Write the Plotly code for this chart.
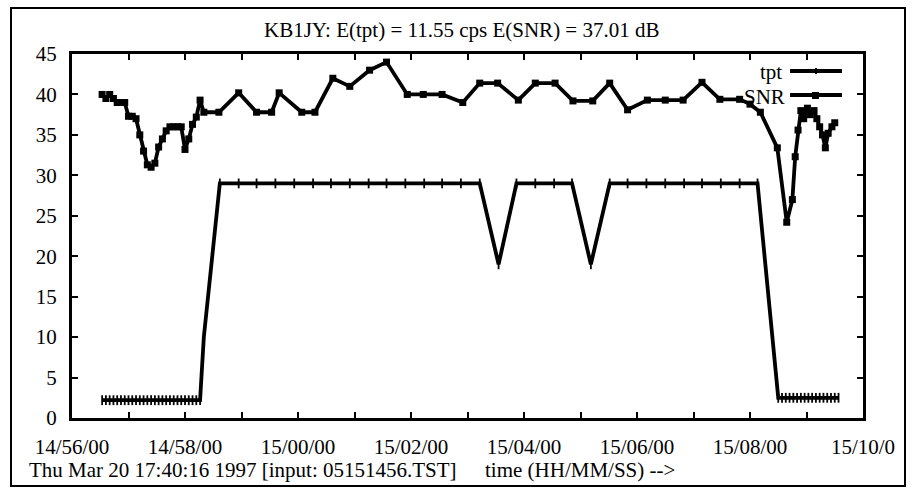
import plotly.graph_objects as go

DAY = "1997-03-20 "

# ---- data ----
tpt_times = [
    "14:56:32", "14:56:36", "14:56:40", "14:56:44", "14:56:48", "14:56:52", "14:56:56",
    "14:57:00", "14:57:04", "14:57:08", "14:57:12", "14:57:16", "14:57:20", "14:57:24",
    "14:57:28", "14:57:32", "14:57:36", "14:57:40", "14:57:44", "14:57:48", "14:57:52",
    "14:57:56", "14:58:00", "14:58:04", "14:58:08", "14:58:12", "14:58:16", "14:58:20",
    "14:58:37", "14:58:57", "14:59:16", "14:59:36", "14:59:56", "15:00:16", "15:00:35",
    "15:00:55", "15:01:15", "15:01:34", "15:01:54", "15:02:14", "15:02:33", "15:02:53",
    "15:03:13", "15:03:33", "15:03:52", "15:04:12", "15:04:32", "15:04:51", "15:05:11",
    "15:05:31", "15:05:50", "15:06:10", "15:06:30", "15:06:50", "15:07:09", "15:07:29",
    "15:07:49", "15:08:08",
    "15:08:30", "15:08:34", "15:08:38", "15:08:42", "15:08:46", "15:08:50", "15:08:54",
    "15:08:58", "15:09:02", "15:09:06", "15:09:10", "15:09:14", "15:09:18", "15:09:22",
    "15:09:26", "15:09:30", "15:09:34",
]
tpt_values = [
    2.2, 2.2, 2.2, 2.2, 2.2, 2.2, 2.2,
    2.2, 2.2, 2.2, 2.2, 2.2, 2.2, 2.2,
    2.2, 2.2, 2.2, 2.2, 2.2, 2.2, 2.2,
    2.2, 2.2, 2.2, 2.2, 2.2, 2.2, 10.0,
    29.0, 29.0, 29.0, 29.0, 29.0, 29.0, 29.0,
    29.0, 29.0, 29.0, 29.0, 29.0, 29.0, 29.0,
    29.0, 19.0, 29.0, 29.0, 29.0, 29.0, 19.0,
    29.0, 29.0, 29.0, 29.0, 29.0, 29.0, 29.0,
    29.0, 29.0,
    2.5, 2.5, 2.5, 2.5, 2.5, 2.5, 2.5,
    2.5, 2.5, 2.5, 2.5, 2.5, 2.5, 2.5,
    2.5, 2.5, 2.5,
]

snr_times = [
    "14:56:32", "14:56:36", "14:56:40", "14:56:44", "14:56:48", "14:56:52", "14:56:56",
    "14:57:00", "14:57:04", "14:57:08", "14:57:12", "14:57:16", "14:57:20", "14:57:24",
    "14:57:28", "14:57:32", "14:57:36", "14:57:40", "14:57:44", "14:57:48", "14:57:52",
    "14:57:56", "14:58:00", "14:58:04", "14:58:08", "14:58:12", "14:58:16", "14:58:20",
    "14:58:36", "14:58:57", "14:59:16", "14:59:32", "14:59:40", "15:00:04", "15:00:18",
    "15:00:37", "15:00:55", "15:01:16", "15:01:34", "15:01:56", "15:02:13", "15:02:33",
    "15:02:55", "15:03:13", "15:03:32", "15:03:54", "15:04:12", "15:04:33", "15:04:52",
    "15:05:13", "15:05:31", "15:05:50", "15:06:11", "15:06:30", "15:06:49", "15:07:09",
    "15:07:28", "15:07:49", "15:08:00", "15:08:11",
    "15:08:29", "15:08:39", "15:08:45", "15:08:48", "15:08:51", "15:08:54", "15:08:57",
    "15:09:01", "15:09:04", "15:09:08", "15:09:11", "15:09:14", "15:09:17", "15:09:20",
    "15:09:23", "15:09:27", "15:09:30",
]
snr_values = [
    40.0, 39.5, 40.0, 39.5, 39.0, 39.0, 39.0,
    37.3, 37.3, 37.0, 35.0, 33.0, 31.3, 31.0,
    31.5, 33.5, 34.5, 35.5, 36.0, 36.0, 36.0,
    36.0, 33.2, 34.5, 36.3, 37.2, 39.3, 37.8,
    37.8, 40.2, 37.8, 37.8, 40.2, 37.8, 37.8,
    42.0, 41.0, 43.0, 44.0, 40.0, 40.0, 40.0,
    39.0, 41.4, 41.4, 39.3, 41.4, 41.4, 39.2,
    39.2, 41.4, 38.1, 39.3, 39.3, 39.3, 41.5,
    39.4, 39.4, 38.8, 37.8,
    33.4, 24.2, 27.0, 32.3, 35.6, 38.0, 37.0,
    38.3, 37.5, 38.0, 37.0, 36.0, 35.0, 33.4,
    35.2, 36.0, 36.5,
]

tick_times = ["14:56:00", "14:57:00", "14:58:00", "14:59:00", "15:00:00", "15:01:00",
              "15:02:00", "15:03:00", "15:04:00", "15:05:00", "15:06:00", "15:07:00",
              "15:08:00", "15:09:00", "15:10:00"]
tick_labels = ["14/56/00", "", "14/58/00", "", "15/00/00", "", "15/02/00", "",
               "15/04/00", "", "15/06/00", "", "15/08/00", "", "15/10/0"]
y_ticks = [0, 5, 10, 15, 20, 25, 30, 35, 40, 45]

title_text = "KB1JY: E(tpt) = 11.55 cps E(SNR) = 37.01 dB"
footer_left = "Thu Mar 20 17:40:16 1997 [input: 05151456.TST]"
footer_right = "time (HH/MM/SS) -->"

# ---- layout geometry (pixels) ----
W, H = 912, 495
L, R, T, B = 72, 863, 54, 418
FONT = "Liberation Serif, Times New Roman, Tinos, DejaVu Serif, serif"
FS = 21


def px(x):
    return (x - L) / (R - L)


def py(y):
    return (B - y) / (B - T)


fig = go.Figure()
fig.add_trace(go.Scatter(
    x=[DAY + t for t in tpt_times], y=tpt_values, mode="lines+markers",
    name="tpt", line=dict(color="black", width=3.8),
    marker=dict(symbol="line-ns-open", size=7, color="black",
                line=dict(color="black", width=1.8)),
))
fig.add_trace(go.Scatter(
    x=[DAY + t for t in snr_times], y=snr_values, mode="lines+markers",
    name="SNR", line=dict(color="black", width=3.8),
    marker=dict(symbol="square", size=7, color="black"),
))

shapes = [
    # outer frame
    dict(type="rect", xref="paper", yref="paper",
         x0=px(11), x1=px(905), y0=py(486), y1=py(8),
         line=dict(color="black", width=2)),
    # legend samples
    dict(type="line", xref="paper", yref="paper",
         x0=px(790), x1=px(842), y0=py(71), y1=py(71),
         line=dict(color="black", width=3.8)),
    dict(type="line", xref="paper", yref="paper",
         x0=px(816), x1=px(816), y0=py(68), y1=py(74),
         line=dict(color="black", width=1.8)),
    dict(type="line", xref="paper", yref="paper",
         x0=px(790), x1=px(842), y0=py(95), y1=py(95),
         line=dict(color="black", width=3.8)),
    dict(type="rect", xref="paper", yref="paper",
         x0=px(812), x1=px(819), y0=py(99), y1=py(92),
         fillcolor="black", line=dict(color="black", width=0)),
]

annotations = [
    dict(text=title_text, xref="paper", yref="paper", x=px(461), y=py(30),
         xanchor="center", yanchor="middle", showarrow=False,
         font=dict(family=FONT, size=FS, color="black")),
    dict(text=footer_left, xref="paper", yref="paper", x=px(27), y=py(470),
         xanchor="left", yanchor="middle", showarrow=False,
         font=dict(family=FONT, size=FS, color="black")),
    dict(text=footer_right, xref="paper", yref="paper", x=px(483), y=py(470),
         xanchor="left", yanchor="middle", showarrow=False,
         font=dict(family=FONT, size=FS, color="black")),
    dict(text="tpt", xref="paper", yref="paper", x=px(784), y=py(72),
         xanchor="right", yanchor="middle", showarrow=False,
         font=dict(family=FONT, size=FS, color="black")),
    dict(text="SNR", xref="paper", yref="paper", x=px(787), y=py(97),
         xanchor="right", yanchor="middle", showarrow=False,
         font=dict(family=FONT, size=FS, color="black")),
]

fig.update_layout(
    width=W, height=H,
    margin=dict(l=L, r=W - R, t=T, b=H - B, pad=0),
    paper_bgcolor="white", plot_bgcolor="white",
    showlegend=False,
    font=dict(family=FONT, size=FS, color="black"),
    shapes=shapes, annotations=annotations,
)
fig.update_xaxes(
    type="date", range=[DAY + "14:56:00", DAY + "15:10:00"],
    tickvals=[DAY + t for t in tick_times], ticktext=tick_labels,
    ticks="inside", ticklen=6, tickwidth=2, tickcolor="black",
    showline=True, linewidth=3, linecolor="black", mirror="allticks",
    showgrid=False, zeroline=False, ticklabelstandoff=8,
    tickfont=dict(family=FONT, size=FS, color="black"),
)
fig.update_yaxes(
    range=[0, 45], tickvals=y_ticks,
    ticks="inside", ticklen=6, tickwidth=2, tickcolor="black",
    showline=True, linewidth=3, linecolor="black", mirror="allticks",
    showgrid=False, zeroline=False, ticklabelstandoff=8,
    tickfont=dict(family=FONT, size=FS, color="black"),
)

fig.write_html("out.html")
